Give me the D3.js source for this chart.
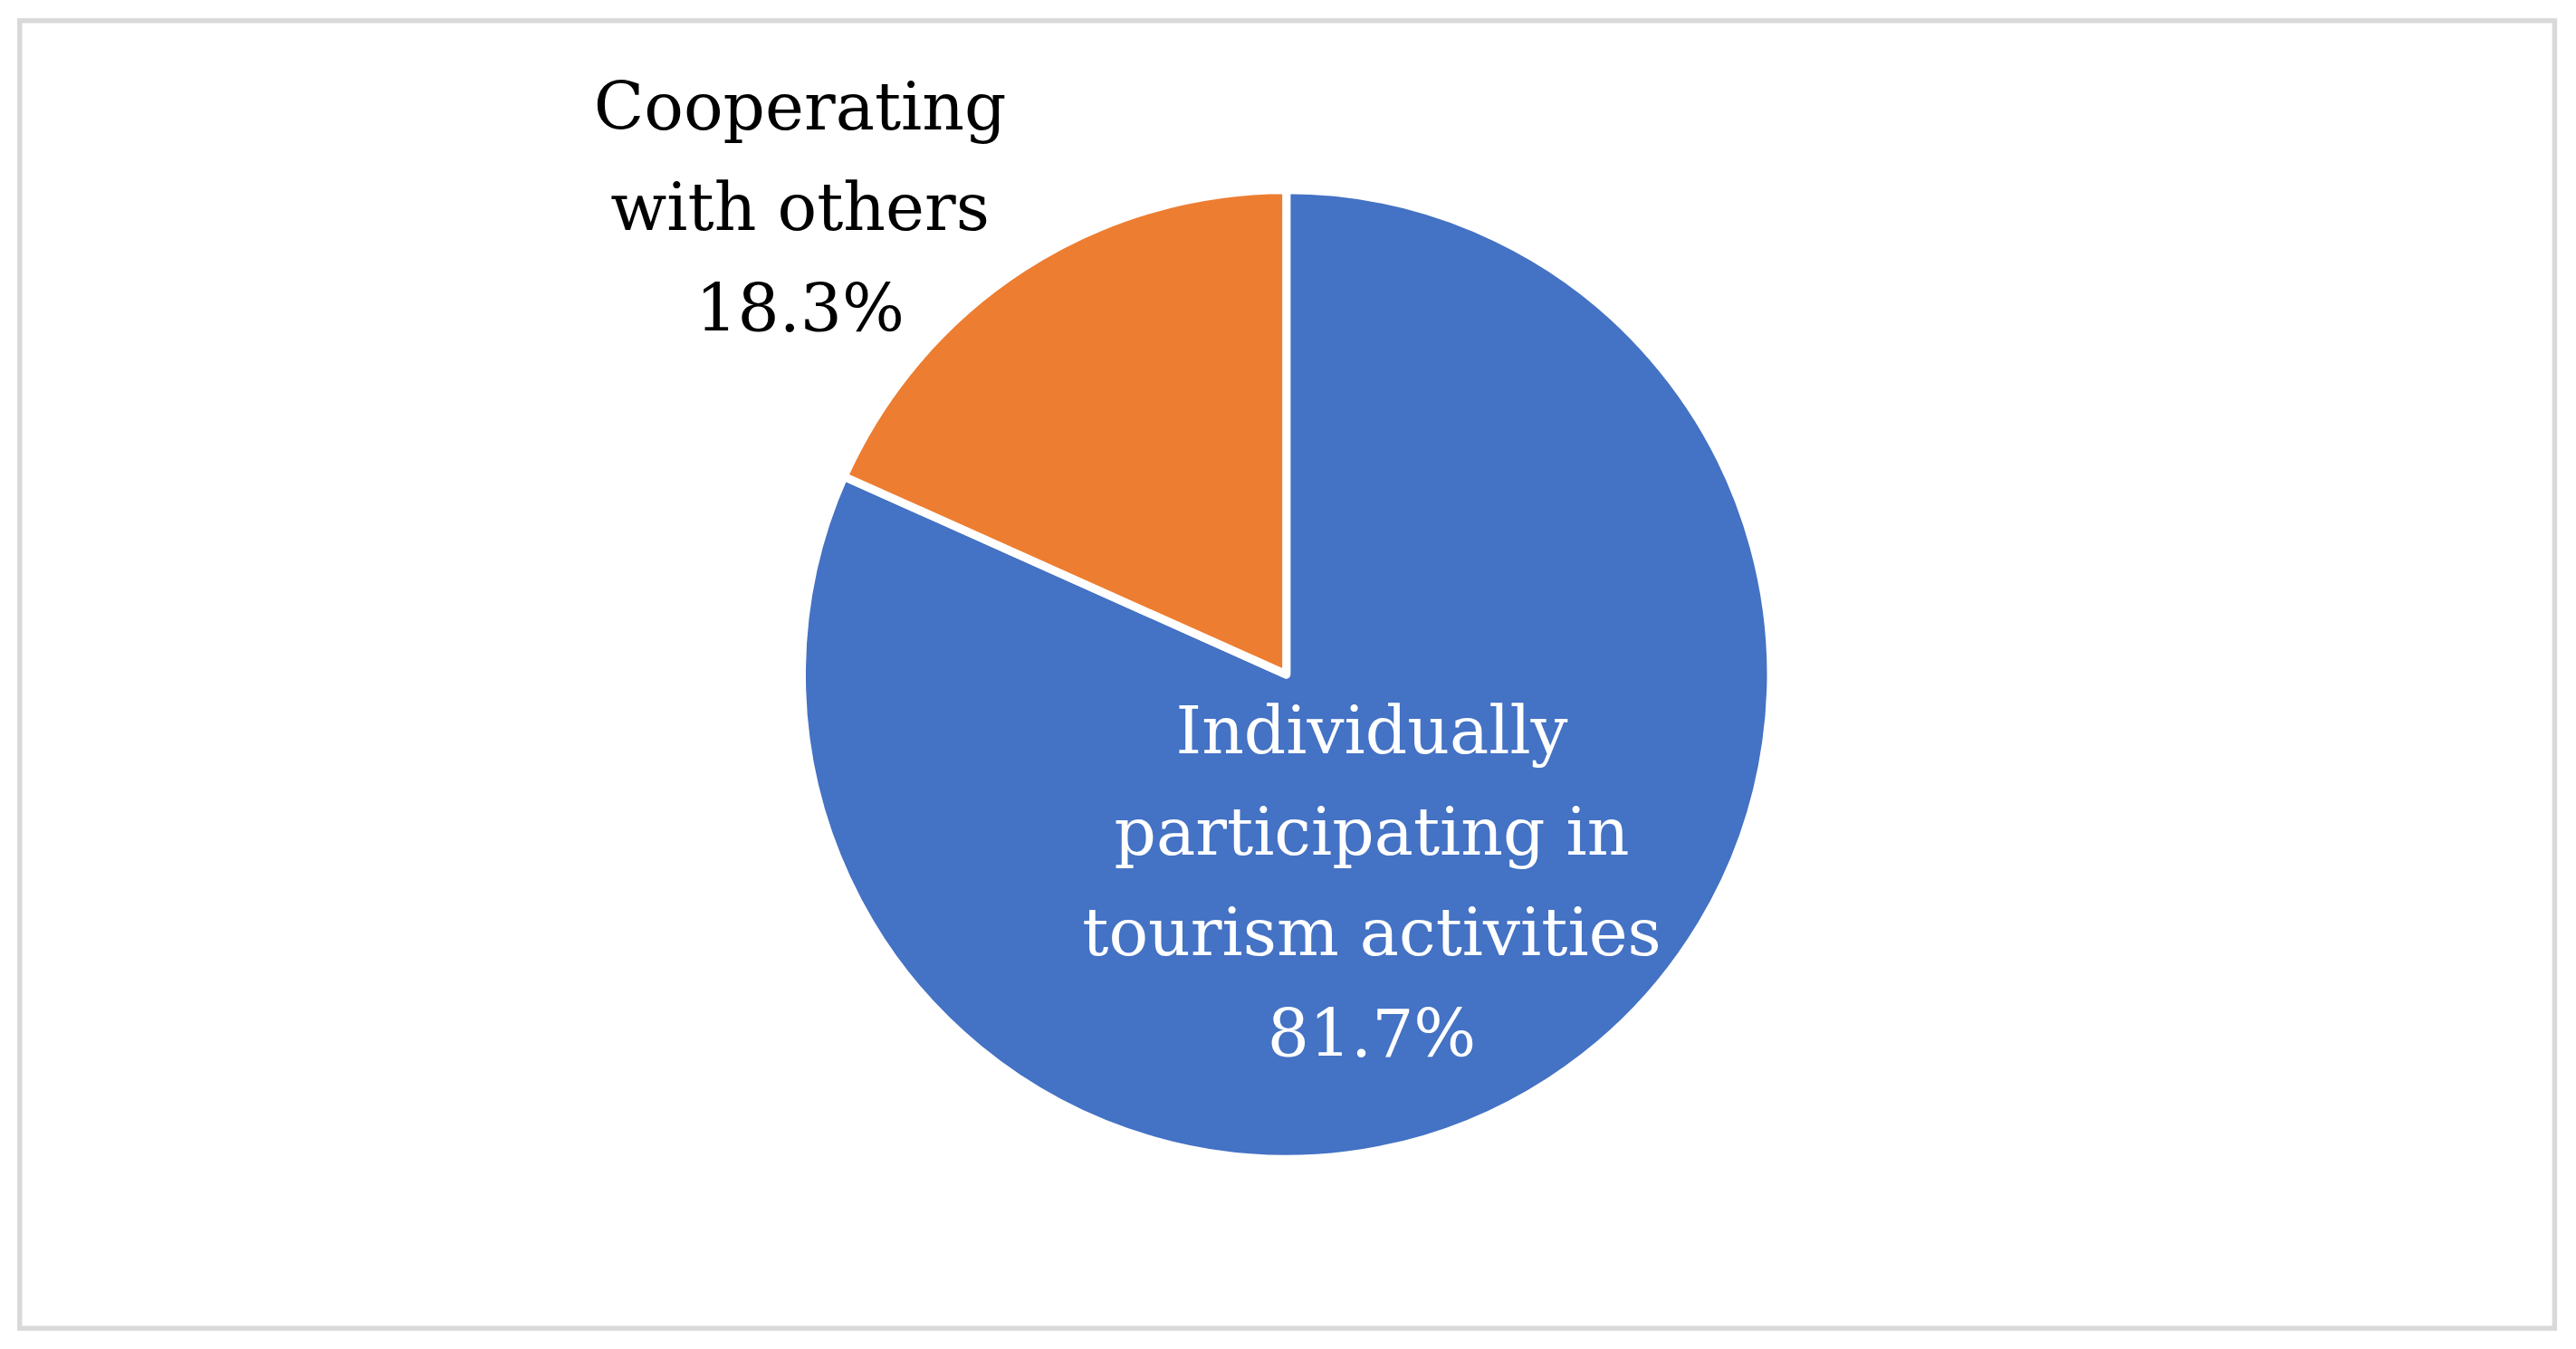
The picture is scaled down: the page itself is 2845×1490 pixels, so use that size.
<!DOCTYPE html>
<html>
<head>
<meta charset="utf-8">
<script src="https://cdn.jsdelivr.net/npm/d3@7"></script>
<style>
  body { margin: 0; background: #fff; }
</style>
</head>
<body>
<div class="chart"></div>
<script>
var categories = ['Individually participating in tourism activities', 'Cooperating with others']
var values = [81.7, 18.3]
var colors = ['#4472C4', '#ED7D31']

// chart is laid out in a 1568x820 space and scaled up by viewBox
var svg = d3.select('.chart')
  .append('svg')
    .attr('width', 2845)
    .attr('height', 1490)
    .attr('viewBox', '0 0 1568 820')

svg.append('rect')
  .attr('x', 12).attr('y', 12)
  .attr('width', 1543).attr('height', 796)
  .attr('fill', 'none')
  .attr('stroke', '#d9d9d9')
  .attr('stroke-width', 3)

var pie = d3.pie().sort(null).value(d => d)
var arc = d3.arc().innerRadius(0).outerRadius(295)

var g = svg.append('g').attr('transform', 'translate(783, 410)')

g.selectAll('path')
  .data(pie(values))
  .enter()
    .append('path')
    .attr('d', arc)
    .attr('fill', (d, i) => colors[i])
    .attr('stroke', '#fff')
    .attr('stroke-width', 5)
    .attr('stroke-linejoin', 'round')

// label lines
var labels = [
  { lines: ['Individually', 'participating in', 'tourism activities', values[0] + '%'], x: 835, y: 458, fill: '#fff' },
  { lines: ['Cooperating', 'with others', values[1] + '%'], x: 487, y: 78, fill: '#000' }
]

labels.forEach(function(l) {
  svg.append('text')
    .attr('x', l.x)
    .attr('y', l.y)
    .attr('text-anchor', 'middle')
    .attr('font-family', '"DejaVu Serif", "Liberation Serif", serif')
    .attr('font-size', 40)
    .attr('fill', l.fill)
    .selectAll('tspan')
    .data(l.lines)
    .enter()
      .append('tspan')
      .attr('x', l.x)
      .attr('dy', (d, i) => i === 0 ? 0 : 61.5)
      .text(d => d)
})
</script>
</body>
</html>
